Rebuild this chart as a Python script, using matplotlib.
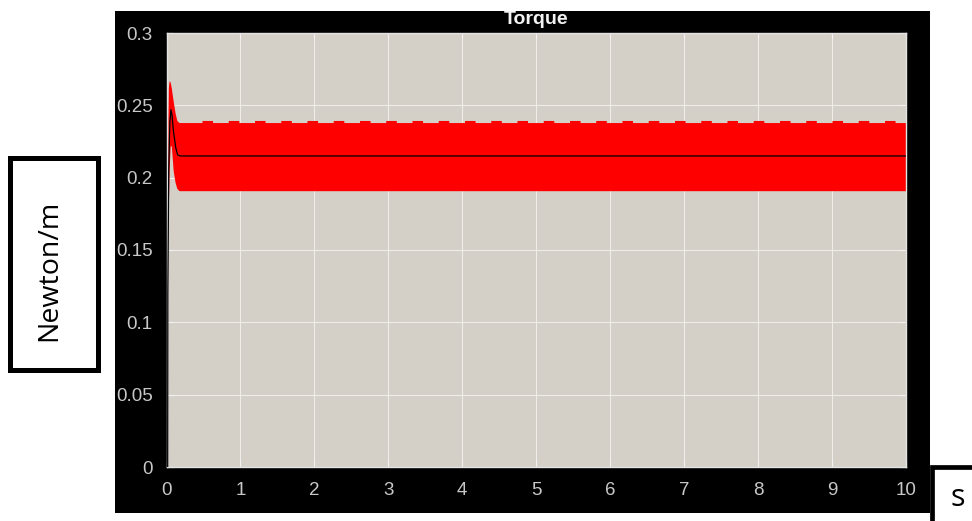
import matplotlib
matplotlib.use("Agg")
import matplotlib.pyplot as plt
from matplotlib.patches import Rectangle

# Envelope of the fast torque ripple (upper / lower bounds of the red band)
t_band = [0.018, 0.025, 0.035, 0.05, 0.065, 0.09, 0.115, 0.14, 0.17, 10.0]
band_upper = [0.240, 0.262, 0.267, 0.266, 0.262, 0.253, 0.245, 0.2395, 0.2381, 0.2381]
band_lower = [0.176, 0.180, 0.205, 0.222, 0.222, 0.205, 0.197, 0.1925, 0.191, 0.191]

# Peak level of the periodic ripple crests along the top of the band
ripple_level = 0.2385
ripple_start = 0.486

# Mean torque (black trace)
t_mean = [0.016, 0.018, 0.03, 0.045, 0.06, 0.075, 0.092, 0.124, 0.15, 0.18, 10.0]
torque_mean = [0.0, 0.12, 0.205, 0.238, 0.247, 0.243, 0.233, 0.221, 0.2158, 0.215, 0.215]

x_ticks = list(range(0, 11))
x_tick_labels = [str(v) for v in x_ticks]
y_ticks = [0, 0.05, 0.1, 0.15, 0.2, 0.25, 0.3]
y_tick_labels = ["0", "0.05", "0.1", "0.15", "0.2", "0.25", "0.3"]

W, H = 972, 521
fig = plt.figure(figsize=(W / 100, H / 100), dpi=100, facecolor="white")


def fx(px):
    return px / W


def fy(py):
    return 1 - py / H


# Black scope panel behind the axes
fig.add_artist(Rectangle((fx(115), fy(513)), (930 - 115) / W, (513 - 11) / H,
                         transform=fig.transFigure, facecolor="black",
                         edgecolor="none", zorder=-1))

ax = fig.add_axes([fx(166.5), fy(467), (906 - 166.5) / W, (467 - 33) / H])
ax.set_facecolor("#d4d0c8")

ax.fill_between(t_band, band_lower, band_upper, color="#ff0000", lw=0, zorder=2)
ripple_lw = 2.2
ax.plot([ripple_start, 10], [ripple_level, ripple_level], color="#ff0000",
        lw=ripple_lw, dashes=(7.6 / ripple_lw, 11.3 / ripple_lw),
        dash_capstyle="butt", zorder=2)
ax.plot(t_mean, torque_mean, color="black", lw=0.9, zorder=3)

ax.set_xlim(0, 10)
ax.set_ylim(0, 0.3)
ax.set_xticks(x_ticks)
ax.set_xticklabels(x_tick_labels)
ax.set_yticks(y_ticks)
ax.set_yticklabels(y_tick_labels)

ax.set_axisbelow(True)
ax.grid(True, color="#eeede8", lw=0.8)
ax.tick_params(direction="in", length=4.3, width=0.8, color="#f2f2f2",
               top=True, right=True, labelcolor="#c8c8c8", labelsize=13.5)
ax.tick_params(axis="x", pad=11)
ax.tick_params(axis="y", pad=10)
for lab in ax.get_xticklabels() + ax.get_yticklabels():
    lab.set_fontfamily("Liberation Sans")
for sp in ax.spines.values():
    sp.set_color("#e4e4e4")
    sp.set_linewidth(1.0)

# Title, partly cut by the top edge of the panel
fig.text(fx(536), fy(24.5), "Torque", color="#f2f2f2", fontsize=14,
         fontweight="bold", family="Liberation Sans", ha="center",
         va="baseline", zorder=3)
fig.add_artist(Rectangle((0, fy(11)), 1, 11 / H, transform=fig.transFigure,
                         facecolor="white", edgecolor="none", zorder=10))

# Boxed unit labels
fig.add_artist(Rectangle((fx(9.5), fy(369.5)), 88 / W, 211 / H,
                         transform=fig.transFigure, facecolor="white",
                         edgecolor="black", lw=3.6, zorder=5))
fig.text(fx(49), fy(270), "Newton/m", rotation=90, fontsize=20.5,
         family="Open Sans", ha="center", va="center", color="black", zorder=6)

fig.add_artist(Rectangle((fx(931.5), fy(530)), 60 / W, (530 - 466.5) / H,
                         transform=fig.transFigure, facecolor="white",
                         edgecolor="black", lw=3.4, zorder=5))
fig.text(fx(958), fy(498), "s", fontsize=22, family="Open Sans",
         ha="center", va="center", color="black", zorder=6)

fig.savefig("out.png", dpi=100, facecolor="white")
